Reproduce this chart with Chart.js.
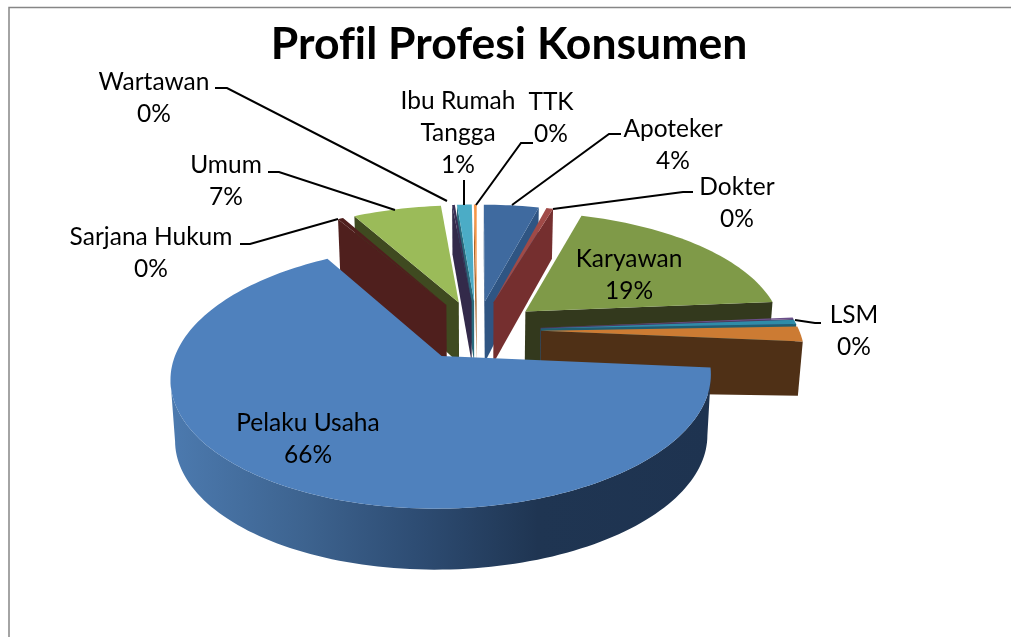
<!DOCTYPE html>
<html>
<head>
<meta charset="utf-8">
<title>Profil Profesi Konsumen</title>
<script src="https://cdn.jsdelivr.net/npm/chart.js@4"></script>
<style>
  html, body { margin: 0; padding: 0; background: #fff; }
  #wrap { width: 1011px; height: 637px; }
</style>
</head>
<body>
<div id="wrap"><canvas id="chart1"></canvas></div>
<script>
// two slices carry no label in the picture
const categories = ['Apoteker', 'Dokter', 'Karyawan', 'LSM', '', '', 'Pelaku Usaha', 'Sarjana Hukum', 'Umum', 'Wartawan', 'Ibu Rumah Tangga', 'TTK'];
const values = [4.1, 0.5, 19.2, 0.2, 0.6, 2.0, 65.6, 0.4, 6.6, 0.2, 1.1, 0.2];
const percentLabels = ['4%', '0%', '19%', '0%', '', '', '66%', '0%', '7%', '0%', '1%', '0%'];

const topColors = ['#3F6A9F', '#A04A47', '#7F9A48', '#6B4F8A', '#2F8CA8', '#CC7B33', '#4F81BD', '#4F1F1D', '#9BBB59', '#3A2F55', '#4BACC6', '#F79646'];
const sideColors = ['#2F5583', '#752F2F', '#33391D', '#4A3666', '#1F5F72', '#4F3016', '#1E3350', '#4F1F1D', '#3F4A20', '#332A4A', '#2A6A7C', '#A8662F'];

// label blocks: centre x, y of first line centre, text lines
const labelBlocks = [
  { x: 673, y: 129, lines: ['Apoteker', '4%'] },
  { x: 737, y: 187, lines: ['Dokter', '0%'] },
  { x: 629, y: 259, lines: ['Karyawan', '19%'] },
  { x: 854, y: 315, lines: ['LSM', '0%'] },
  { x: 308, y: 423, lines: ['Pelaku Usaha', '66%'] },
  { x: 151, y: 237, lines: ['Sarjana Hukum', '0%'] },
  { x: 226, y: 165, lines: ['Umum', '7%'] },
  { x: 154, y: 82, lines: ['Wartawan', '0%'] },
  { x: 458, y: 101, lines: ['Ibu Rumah', 'Tangga', '1%'] },
  { x: 551, y: 102, lines: ['TTK', '0%'] }
];

const leaders = [
  [[621, 134], [609, 134], [512, 205]],
  [[693, 192], [683, 192], [553, 209]],
  [[821, 323], [815, 323], [795, 320]],
  [[240, 244], [250, 244], [338, 219]],
  [[268, 172], [279, 172], [395, 210]],
  [[215, 88], [227, 88], [447, 201]],
  [[464, 180], [464, 205]],
  [[533, 143], [521, 143], [476, 205]]
];

// camera used to flatten the disc
const camX = 477, camY = 330, scaleU = 258, scaleV = 120, persp = 0.155, shrink = 0.985;
const D2R = Math.PI / 180;

function w(v) { return 1 + persp * v; }
function depth(p) {
  const back = p[1] < 0.25 ? 61 : 61 - 11 * (p[1] - 0.25) / 0.95;
  const side = Math.min(1, Math.max(0, (p[0] - 0.9) / 0.35));
  return back - 7 * side;
}
function topPt(p) {
  return [camX + scaleU * p[0] / w(p[1]), camY - scaleV * p[1] / w(p[1])];
}
function botPt(p) {
  return [camX + shrink * scaleU * p[0] / w(p[1]), camY - scaleV * p[1] / w(p[1]) + depth(p)];
}
function facesCam(n, p) {
  return n[0] * (0 - p[0]) + n[1] * (-1 / persp - p[1]) > 0;
}
function poly(ctx, pts, fill) {
  ctx.beginPath();
  pts.forEach(function (p, i) { i ? ctx.lineTo(p[0], p[1]) : ctx.moveTo(p[0], p[1]); });
  ctx.closePath();
  ctx.fillStyle = fill;
  ctx.fill();
}

const pie3d = {
  id: 'pie3d',
  beforeDraw: function (chart) {
    const ctx = chart.ctx;
    ctx.save();
    ctx.fillStyle = '#fff';
    ctx.fillRect(0, 0, chart.width, chart.height);
    ctx.strokeStyle = '#868686';
    ctx.lineWidth = 1.5;
    ctx.beginPath();
    ctx.moveTo(1011, 7.5);
    ctx.lineTo(9, 7.5);
    ctx.lineTo(9, 637);
    ctx.stroke();
    ctx.restore();
    // keeps the title's "fi" as two letters
    ctx.textRendering = 'optimizeSpeed';
  },
  // the library's flat arcs are replaced by the projected ones below
  beforeDatasetDraw: function () { return false; },
  afterDatasetsDraw: function (chart) {
    const ctx = chart.ctx;
    const meta = chart.getDatasetMeta(0);
    const order = meta.data.map(function (arc, i) {
      const mid = (arc.startAngle + arc.endAngle) / 2 + Math.PI / 2;
      const wrapped = Math.atan2(Math.sin(mid), Math.cos(mid));
      return { i: i, arc: arc, key: Math.abs(wrapped) };
    }).sort(function (a, b) { return a.key - b.key; });

    ctx.save();
    ctx.textRendering = 'auto';
    order.forEach(function (o) {
      const arc = o.arc, i = o.i;
      const R = arc.outerRadius, off = arc.options.offset / R;
      const a0 = arc.startAngle, a1 = arc.endAngle, mid = (a0 + a1) / 2;
      const apex = [off * Math.cos(mid), -off * Math.sin(mid)];
      const rim = function (a) { return [apex[0] + Math.cos(a), apex[1] - Math.sin(a)]; };

      const steps = Math.max(2, Math.ceil((a1 - a0) / (1.5 * D2R)));
      const pts = [];
      for (let s = 0; s <= steps; s++) {
        const a = a0 + (a1 - a0) * s / steps;
        pts.push({ a: a, p: rim(a) });
      }
      const side = sideColors[i];

      // start and end cut faces
      const pS = rim(a0), pE = rim(a1);
      if (facesCam([Math.sin(a0), Math.cos(a0)], apex)) {
        poly(ctx, [topPt(apex), topPt(pS), botPt(pS), botPt(apex)], side);
      }
      if (facesCam([-Math.sin(a1), -Math.cos(a1)], apex)) {
        poly(ctx, [topPt(apex), topPt(pE), botPt(pE), botPt(apex)], side);
      }

      // outer wall, only where it looks at the camera
      let fill = side;
      if (i === 6) {
        const g = ctx.createLinearGradient(170, 0, 711, 0);
        g.addColorStop(0, '#4C7AAF');
        g.addColorStop(0.25, '#3D638F');
        g.addColorStop(0.45, '#2E4D74');
        g.addColorStop(0.68, '#1F3552');
        g.addColorStop(1, '#1E3350');
        fill = g;
      }
      let run = [];
      const flush = function () {
        if (run.length > 1) {
          const up = run.map(function (q) { return topPt(q); });
          const down = run.map(function (q) { return botPt(q); }).reverse();
          poly(ctx, up.concat(down), fill);
        }
        run = [];
      };
      pts.forEach(function (q) {
        if (facesCam([Math.cos(q.a), -Math.sin(q.a)], q.p)) run.push(q.p);
        else flush();
      });
      flush();

      // top face
      const face = [topPt(apex)].concat(pts.map(function (q) { return topPt(q.p); }));
      poly(ctx, face, arc.options.backgroundColor);
    });

    ctx.strokeStyle = '#000';
    ctx.lineWidth = 2;
    leaders.forEach(function (line) {
      ctx.beginPath();
      line.forEach(function (p, i) { i ? ctx.lineTo(p[0], p[1]) : ctx.moveTo(p[0], p[1]); });
      ctx.stroke();
    });

    ctx.fillStyle = '#000';
    ctx.font = '24.5px Lato';
    ctx.textAlign = 'center';
    ctx.textBaseline = 'middle';
    labelBlocks.forEach(function (b) {
      b.lines.forEach(function (t, n) {
        ctx.fillText(t, b.x, b.y + n * 32);
      });
    });
    ctx.restore();
  }
};

document.addEventListener('DOMContentLoaded', function () {
  const ctx1 = document.getElementById('chart1').getContext('2d');
  new Chart(ctx1, {
    type: 'pie',
    plugins: [pie3d],
    data: {
      labels: categories,
      datasets: [{
        label: 'Profil Profesi Konsumen',
        data: values,
        backgroundColor: topColors,
        borderWidth: 0,
        offset: 62
      }]
    },
    options: {
      responsive: false,
      animation: false,
      radius: 250,
      layout: { padding: { left: 7 } },
      plugins: {
        legend: { display: false },
        tooltip: {
          callbacks: {
            label: function (item) { return percentLabels[item.dataIndex]; }
          }
        },
        title: {
          display: true,
          text: 'Profil Profesi Konsumen',
          color: '#000',
          font: { family: 'Lato', size: 44.5, weight: 'bold' },
          padding: { top: 18, bottom: 6 }
        }
      }
    }
  });
});
document.getElementById('chart1').width = 1011;
document.getElementById('chart1').height = 637;
</script>
</body>
</html>
